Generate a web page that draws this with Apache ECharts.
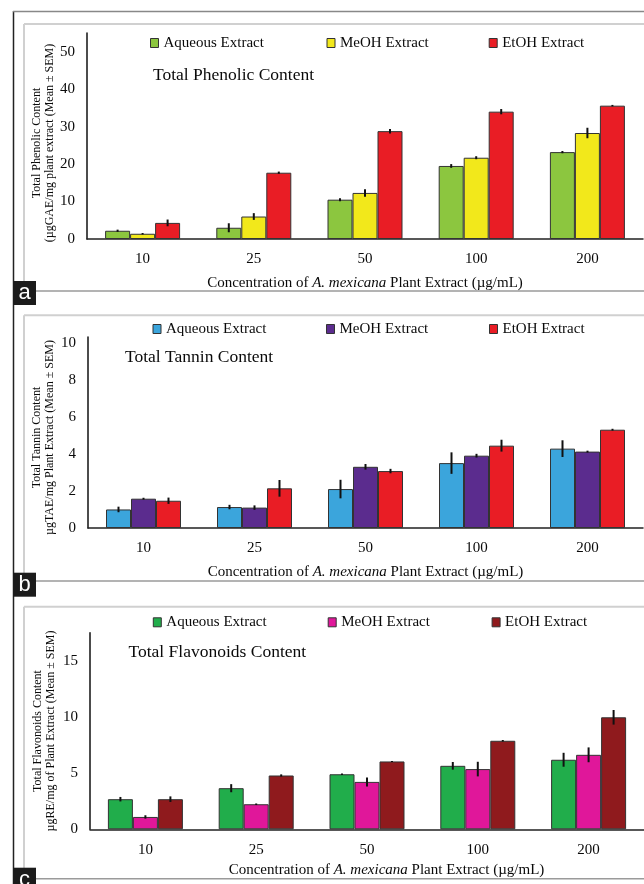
<!DOCTYPE html>
<html>
<head>
<meta charset="utf-8">
<script src="https://cdn.jsdelivr.net/npm/echarts@6/dist/echarts.min.js"></script>
<style>
html,body{margin:0;padding:0;background:#fff;}
#chart{width:644px;height:884px;}
</style>
</head>
<body>
<div id="chart"></div>
<script>
// ---------- data ----------
const categories = ['10', '25', '50', '100', '200'];
const seriesNames = ['Aqueous Extract', 'MeOH Extract', 'EtOH Extract'];

// (a) Total Phenolic Content
const phenolAqueous    = [2.2, 3.0, 10.5, 19.5, 23.2];
const phenolAqueousErr = [0.3, 1.2, 0.4, 0.5, 0.3];
const phenolMeOH       = [1.4, 6.0, 12.3, 21.7, 28.3];
const phenolMeOHErr    = [0.2, 0.9, 1.0, 0.4, 1.4];
const phenolEtOH       = [4.3, 17.7, 28.8, 34.0, 35.6];
const phenolEtOHErr    = [0.9, 0.3, 0.6, 0.7, 0.2];

// (b) Total Tannin Content
const tanninAqueous    = [1.0, 1.13, 2.1, 3.5, 4.28];
const tanninAqueousErr = [0.15, 0.12, 0.5, 0.58, 0.45];
const tanninMeOH       = [1.58, 1.1, 3.3, 3.9, 4.12];
const tanninMeOHErr    = [0.05, 0.12, 0.15, 0.1, 0.05];
const tanninEtOH       = [1.47, 2.14, 3.07, 4.44, 5.3];
const tanninEtOHErr    = [0.17, 0.45, 0.12, 0.32, 0.05];

// (c) Total Flavonoids Content
const flavAqueous    = [2.68, 3.66, 4.9, 5.65, 6.19];
const flavAqueousErr = [0.2, 0.36, 0.07, 0.34, 0.62];
const flavMeOH       = [1.1, 2.23, 4.22, 5.36, 6.63];
const flavMeOHErr    = [0.15, 0.07, 0.4, 0.65, 0.66];
const flavEtOH       = [2.68, 4.79, 6.04, 7.88, 9.97];
const flavEtOHErr    = [0.25, 0.1, 0.05, 0.07, 0.65];

// axis settings
const yMaxA = 55, yIntA = 10;
const yMaxB = 10.3, yIntB = 2;
const yMaxC = 17.5, yIntC = 5;

// ---------- styles ----------
const SERIF = '"Liberation Serif", "Times New Roman", serif';
const TXT = '#0a0a0a';
const BAR_W = 25;

const panels = [
  {
    title: 'Total Phenolic Content', titleLeft: 153, titleTop: 66,
    yName: 'Total Phenolic Content\n(µgGAE/mg plant extract (Mean ± SEM)',
    yNamePad: [0, 14, 0, 0], yNameGap: 31,
    grid: {left: 87, right: 1, top: 33, height: 206},
    yMax: yMaxA, yInt: yIntA,
    xNamePad: [0, 0, 0, 0], xNameGap: 37,
    colors: ['#8cc63f', '#f2e81b', '#e91d25'],
    values: [phenolAqueous, phenolMeOH, phenolEtOH],
    errors: [phenolAqueousErr, phenolMeOHErr, phenolEtOHErr],
    legendLeft: [150, 326.5, 488.7], legendTop: 35.5
  },
  {
    title: 'Total Tannin Content', titleLeft: 125, titleTop: 348.5,
    yName: 'Total Tannin Content\nµgTAE/mg Plant Extract (Mean ± SEM)',
    yNamePad: [0, 10, 0, 0], yNameGap: 32,
    grid: {left: 88, right: 1, top: 337, height: 191},
    yMax: yMaxB, yInt: yIntB,
    xNamePad: [0, 0, 0, 0], xNameGap: 37,
    colors: ['#3ba5dc', '#5b2c8e', '#e91d25'],
    values: [tanninAqueous, tanninMeOH, tanninEtOH],
    errors: [tanninAqueousErr, tanninMeOHErr, tanninEtOHErr],
    legendLeft: [152.5, 326, 489], legendTop: 321.5
  },
  {
    title: 'Total Flavonoids Content', titleLeft: 128.5, titleTop: 643,
    yName: 'Total Flavonoids Content\nµgRE/mg of Plant Extract (Mean ± SEM)',
    yNamePad: [0, 0, 0, 0], yNameGap: 33,
    grid: {left: 90, right: -1, top: 632.7, height: 196.6},
    yMax: yMaxC, yInt: yIntC,
    xNamePad: [0, 0, 0, 39], xNameGap: 33,
    colors: ['#21ad4b', '#e0179a', '#8f1a1d'],
    values: [flavAqueous, flavMeOH, flavEtOH],
    errors: [flavAqueousErr, flavMeOHErr, flavEtOHErr],
    legendLeft: [152.8, 327.7, 491.6], legendTop: 614.8
  }
];

const grids = [], xAxes = [], yAxes = [], series = [], legends = [], titles = [];

function errRenderer(k) {
  return function (params, api) {
    const i = api.value(0), v = api.value(1), e = api.value(2);
    const top = api.coord([i, v + e]);
    const bot = api.coord([i, v - e]);
    const x = top[0] + (k - 1) * BAR_W;
    return {
      type: 'line',
      shape: {x1: x, y1: top[1], x2: x, y2: bot[1]},
      style: {stroke: '#111', lineWidth: 2}
    };
  };
}

panels.forEach(function (p, pi) {
  grids.push(Object.assign({containLabel: false}, p.grid));
  titles.push({
    text: p.title, left: p.titleLeft, top: p.titleTop, padding: 0,
    textStyle: {fontFamily: SERIF, fontSize: 17.5, fontWeight: 'normal', color: TXT}
  });
  xAxes.push({
    type: 'category', gridIndex: pi, data: categories,
    axisTick: {show: false},
    axisLine: {lineStyle: {color: '#222', width: 1.5}},
    axisLabel: {fontFamily: SERIF, fontSize: 15, color: TXT, margin: 13},
    name: '{n|Concentration of }{i|A. mexicana}{n| Plant Extract (µg/mL)}',
    nameLocation: 'middle', nameGap: p.xNameGap, nameMoveOverlap: false,
    nameTextStyle: {
      padding: p.xNamePad,
      rich: {
        n: {fontFamily: SERIF, fontSize: 15, color: TXT},
        i: {fontFamily: SERIF, fontSize: 15, color: TXT, fontStyle: 'italic'}
      }
    }
  });
  yAxes.push({
    type: 'value', gridIndex: pi, min: 0, max: p.yMax, interval: p.yInt,
    splitLine: {show: false},
    axisTick: {show: false},
    axisLine: {show: true, lineStyle: {color: '#111', width: 1.5}},
    axisLabel: {fontFamily: SERIF, fontSize: 15, color: TXT, margin: 12, showMaxLabel: false},
    name: p.yName, nameLocation: 'middle', nameRotate: 90, nameGap: p.yNameGap, nameMoveOverlap: false,
    nameTextStyle: {fontFamily: SERIF, fontSize: 12, color: TXT, lineHeight: 12.5, padding: p.yNamePad}
  });
  seriesNames.forEach(function (name, k) {
    series.push({
      type: 'bar', name: name, xAxisIndex: pi, yAxisIndex: pi,
      data: p.values[k], barWidth: BAR_W, barGap: '0%',
      itemStyle: {color: p.colors[k], borderColor: '#333', borderWidth: 1},
      emphasis: {disabled: true}
    });
    legends.push({
      data: [{name: name, icon: 'rect', itemStyle: {color: p.colors[k], borderColor: '#333', borderWidth: 1}}],
      left: p.legendLeft[k], top: p.legendTop, padding: 0,
      itemWidth: 8, itemHeight: 9, itemGap: 0, selectedMode: false,
      textStyle: {fontFamily: SERIF, fontSize: 15, color: TXT}
    });
  });
  seriesNames.forEach(function (name, k) {
    series.push({
      type: 'custom', xAxisIndex: pi, yAxisIndex: pi, z: 10, silent: true,
      data: p.values[k].map(function (v, i) { return [i, v, p.errors[k][i]]; }),
      encode: {x: 0, y: 1},
      renderItem: errRenderer(k)
    });
  });
});

// ---------- decorative frame ----------
const frames = [[24, 291], [315.3, 581], [606.7, 878.7]];
const graphic = [
  {type: 'line', shape: {x1: 13.5, y1: 11, x2: 13.5, y2: 884}, style: {stroke: '#222', lineWidth: 1.5}},
  {type: 'line', shape: {x1: 13, y1: 11.5, x2: 644, y2: 11.5}, style: {stroke: '#888', lineWidth: 1.5}}
];
frames.forEach(function (f) {
  graphic.push({type: 'line', shape: {x1: 24, y1: f[0], x2: 644, y2: f[0]}, style: {stroke: '#d0d0d0', lineWidth: 2}});
  graphic.push({type: 'line', shape: {x1: 24, y1: f[0], x2: 24, y2: f[1]}, style: {stroke: '#d0d0d0', lineWidth: 2}});
  graphic.push({type: 'line', shape: {x1: 24, y1: f[1], x2: 644, y2: f[1]}, style: {stroke: '#9a9a9a', lineWidth: 1.5}});
});
const letters = [['a', 281, 24], ['b', 572.7, 24], ['c', 867.7, 24]];
letters.forEach(function (l) {
  graphic.push({type: 'rect', shape: {x: 13, y: l[1], width: 23, height: l[2]}, style: {fill: '#1b1b1b'}, z: 20});
  graphic.push({
    type: 'text', x: 24.5, y: l[1] + 12, z: 21,
    style: {text: l[0], fill: '#fff', font: '22px "Liberation Sans", Arial, sans-serif', align: 'center', verticalAlign: 'middle'}
  });
});

const chart = echarts.init(document.getElementById('chart'), null, {renderer: 'canvas'});
chart.setOption({
  animation: false,
  backgroundColor: '#fff',
  title: titles,
  legend: legends,
  grid: grids,
  xAxis: xAxes,
  yAxis: yAxes,
  series: series,
  graphic: graphic
});
</script>
</body>
</html>
